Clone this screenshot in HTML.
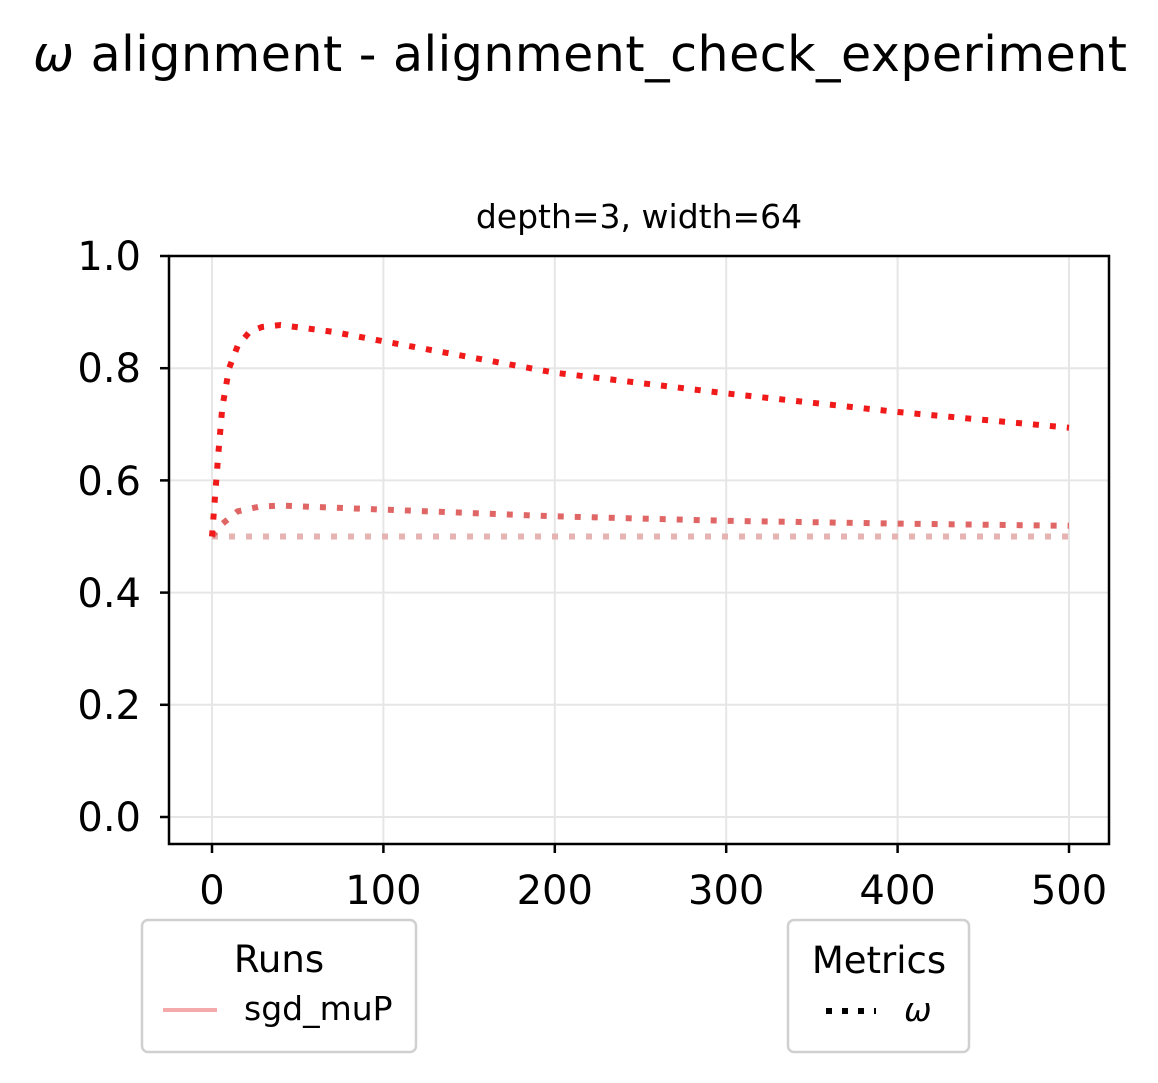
<!DOCTYPE html>
<html><head><meta charset="utf-8"><style>
html,body{margin:0;padding:0;background:#fff;}
svg{display:block;font-family:"DejaVu Sans","Liberation Sans",sans-serif;}
</style></head><body>
<svg width="1158" height="1083" viewBox="0 0 1158 1083" xmlns="http://www.w3.org/2000/svg">
<rect width="1158" height="1083" fill="#fff"/>
<text x="580" y="71" font-size="49" text-anchor="middle" textLength="1094" fill="#000"><tspan font-style="italic">ω</tspan> alignment - alignment_check_experiment</text>
<text x="639" y="228" font-size="33" text-anchor="middle">depth=3, width=64</text>
<g stroke="#e6e6e6" stroke-width="2">
<line x1="212" y1="256" x2="212" y2="844"/><line x1="383.4" y1="256" x2="383.4" y2="844"/><line x1="554.8" y1="256" x2="554.8" y2="844"/><line x1="726.2" y1="256" x2="726.2" y2="844"/><line x1="897.6" y1="256" x2="897.6" y2="844"/><line x1="1069" y1="256" x2="1069" y2="844"/>
<line x1="169" y1="817" x2="1109" y2="817"/><line x1="169" y1="704.8" x2="1109" y2="704.8"/><line x1="169" y1="592.6" x2="1109" y2="592.6"/><line x1="169" y1="480.4" x2="1109" y2="480.4"/><line x1="169" y1="368.2" x2="1109" y2="368.2"/>
</g>
<g fill="none" stroke-width="6" stroke-dasharray="6 11">
<path stroke="#e6b3b3" d="M212,536.5 L1069,536.5"/>
<path stroke="#e06666" d="M212,536.5 L220.6,525.3 L237.7,511.3 L260,506.5 L280.6,505.6 L383.4,509.6 L554.8,516.3 L726.2,520.8 L897.6,523.6 L1069,525.8"/>
<path stroke="#f01a1a" d="M212,536.5 L215.4,491.6 L218.9,446.7 L222.3,407.5 L229.1,368.2 L237.7,345.8 L249.7,331.7 L262,327 L280.6,325 L332,331.7 L383.4,341.3 L469.1,357 L554.8,372.7 L726.2,393.4 L897.6,412 L1069,427.7"/>
</g>
<rect x="169" y="256" width="940" height="588" fill="none" stroke="#000" stroke-width="2.5"/>
<g stroke="#000" stroke-width="2.5">
<line x1="212" y1="844" x2="212" y2="853"/><line x1="383.4" y1="844" x2="383.4" y2="853"/><line x1="554.8" y1="844" x2="554.8" y2="853"/><line x1="726.2" y1="844" x2="726.2" y2="853"/><line x1="897.6" y1="844" x2="897.6" y2="853"/><line x1="1069" y1="844" x2="1069" y2="853"/>
<line x1="160" y1="817" x2="169" y2="817"/><line x1="160" y1="704.8" x2="169" y2="704.8"/><line x1="160" y1="592.6" x2="169" y2="592.6"/><line x1="160" y1="480.4" x2="169" y2="480.4"/><line x1="160" y1="368.2" x2="169" y2="368.2"/><line x1="160" y1="256" x2="169" y2="256"/>
</g>
<g font-size="40" text-anchor="middle">
<text x="212" y="904">0</text><text x="383.4" y="904">100</text><text x="554.8" y="904">200</text><text x="726.2" y="904">300</text><text x="897.6" y="904">400</text><text x="1069" y="904">500</text>
</g>
<g font-size="40" text-anchor="end">
<text x="141" y="831">0.0</text><text x="141" y="719">0.2</text><text x="141" y="607">0.4</text><text x="141" y="495">0.6</text><text x="141" y="382">0.8</text><text x="141" y="270">1.0</text>
</g>
<rect x="142" y="920" width="274" height="132" rx="6" fill="#fff" stroke="#d0d0d0" stroke-width="2.5"/>
<text x="279" y="972" font-size="37" text-anchor="middle">Runs</text>
<line x1="163" y1="1010" x2="217" y2="1010" stroke="#f4aaaa" stroke-width="4"/>
<text x="244" y="1020" font-size="33">sgd_muP</text>
<rect x="788" y="920" width="181" height="132" rx="6" fill="#fff" stroke="#d0d0d0" stroke-width="2.5"/>
<text x="879" y="973" font-size="37" text-anchor="middle">Metrics</text>
<line x1="826" y1="1011" x2="876" y2="1011" stroke="#000" stroke-width="6" stroke-dasharray="6 10"/>
<text x="904" y="1021" font-size="33" font-style="italic">ω</text>
</svg>
</body></html>
